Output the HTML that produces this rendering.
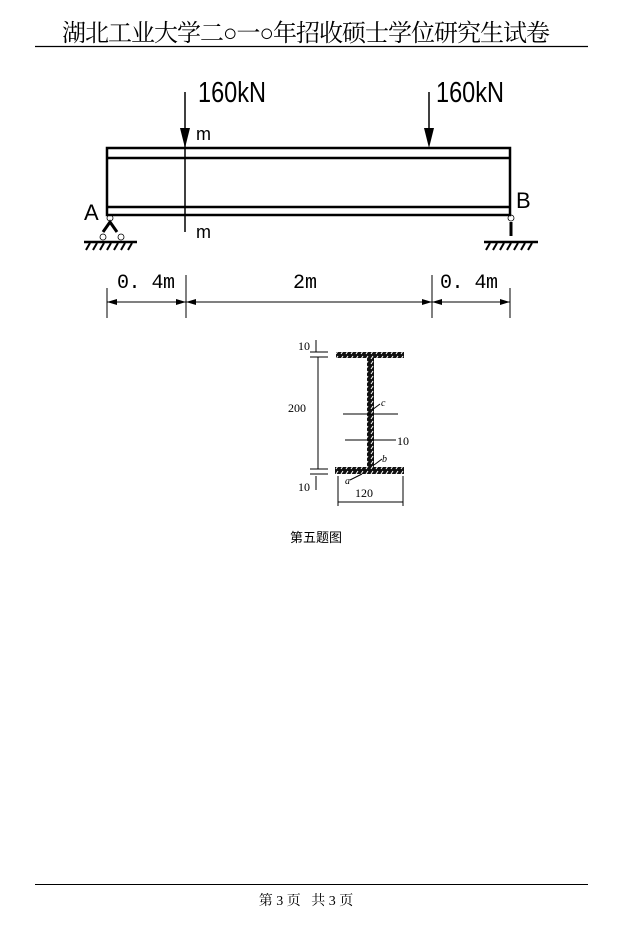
<!DOCTYPE html>
<html><head><meta charset="utf-8"><style>
html,body{margin:0;padding:0;background:#fff;}
svg{display:block}
</style></head><body>
<svg width="631" height="933" viewBox="0 0 631 933" xmlns="http://www.w3.org/2000/svg">
<defs>
<marker id="ar" markerWidth="10" markerHeight="6" refX="10" refY="3" orient="auto" markerUnits="userSpaceOnUse"><path d="M0,0 L10,3 L0,6 Z" fill="#000"/></marker>
<pattern id="h" width="5" height="5" patternUnits="userSpaceOnUse"><rect width="5" height="5" fill="#111"/><path d="M1,4 L3,1" stroke="#fff" stroke-width="1"/></pattern>
</defs>
<text x="306" y="41" font-family="'Liberation Serif','Noto Serif CJK SC',serif" font-size="24" text-anchor="middle" textLength="488" fill="#000">湖北工业大学二○一○年招收硕士学位研究生试卷</text>
<line x1="35" y1="46.5" x2="588" y2="46.5" stroke="#000" stroke-width="1.2"/>

<g stroke="#000" stroke-width="2.5" fill="none">
<rect x="107" y="148" width="403" height="67"/>
<line x1="107" y1="158" x2="510" y2="158"/>
<line x1="107" y1="207" x2="510" y2="207"/>
</g>
<line x1="185" y1="92" x2="185" y2="232" stroke="#000" stroke-width="1.5"/>
<path d="M180,128 L190,128 L185,148 Z"/>
<line x1="429" y1="92" x2="429" y2="135" stroke="#000" stroke-width="1.5"/>
<path d="M424,128 L434,128 L429,148 Z"/>
<g font-family="'Liberation Sans',sans-serif" fill="#000">
<text x="198" y="102" font-size="29" textLength="68" lengthAdjust="spacingAndGlyphs">160kN</text>
<text x="436" y="102" font-size="29" textLength="68" lengthAdjust="spacingAndGlyphs">160kN</text>
<text x="196" y="140" font-size="18">m</text>
<text x="196" y="238" font-size="18">m</text>
<text x="84" y="220" font-size="22">A</text>
<text x="516" y="208" font-size="22">B</text>
</g>
<g stroke="#000" fill="none">
<circle cx="110" cy="218" r="3" stroke-width="0.8"/>
<path d="M103,232 L110,222 L117,232" stroke-width="3"/>
<circle cx="103" cy="237" r="3" stroke-width="0.8"/>
<circle cx="121" cy="237" r="3" stroke-width="0.8"/>
<line x1="84" y1="242" x2="137" y2="242" stroke-width="2.5"/>
<path d="M86,250 L90,243 M93,250 L97,243 M100,250 L104,243 M107,250 L111,243 M114,250 L118,243 M121,250 L125,243 M128,250 L132,243" stroke-width="2"/>
<circle cx="511" cy="218" r="3" stroke-width="0.8"/>
<line x1="511" y1="222" x2="511" y2="236" stroke-width="3"/>
<line x1="484" y1="242" x2="538" y2="242" stroke-width="2.5"/>
<path d="M486,250 L490,243 M493,250 L497,243 M500,250 L504,243 M507,250 L511,243 M514,250 L518,243 M521,250 L525,243 M528,250 L532,243" stroke-width="2"/>
</g>
<g stroke="#000" stroke-width="1">
<line x1="107" y1="288" x2="107" y2="318"/>
<line x1="186" y1="275" x2="186" y2="318"/>
<line x1="432" y1="275" x2="432" y2="318"/>
<line x1="510" y1="288" x2="510" y2="318"/>
<line x1="107" y1="302" x2="186" y2="302" marker-end="url(#ar)"/>
<line x1="186" y1="302" x2="107" y2="302" marker-end="url(#ar)"/>
<line x1="186" y1="302" x2="432" y2="302" marker-end="url(#ar)"/>
<line x1="432" y1="302" x2="186" y2="302" marker-end="url(#ar)"/>
<line x1="432" y1="302" x2="510" y2="302" marker-end="url(#ar)"/>
<line x1="510" y1="302" x2="432" y2="302" marker-end="url(#ar)"/>
</g>
<g font-family="'Liberation Mono',monospace" font-size="20" fill="#000">
<text x="117" y="288" textLength="58">0. 4m</text>
<text x="293" y="288">2m</text>
<text x="440" y="288" textLength="58">0. 4m</text>
</g>

<rect x="336" y="352" width="68" height="6" fill="url(#h)"/>
<rect x="367" y="358" width="7" height="109" fill="url(#h)"/>
<rect x="335" y="467" width="69" height="7" fill="url(#h)"/>
<g stroke="#000" stroke-width="1" fill="none">
<line x1="318" y1="357" x2="318" y2="469"/>
<line x1="310" y1="352" x2="328" y2="352"/>
<line x1="310" y1="357" x2="328" y2="357"/>
<line x1="310" y1="469" x2="328" y2="469"/>
<line x1="310" y1="474" x2="328" y2="474"/>
<line x1="316" y1="340" x2="316" y2="352"/>
<line x1="316" y1="476" x2="316" y2="490"/>
<line x1="343" y1="414" x2="398" y2="414"/>
<line x1="345" y1="440" x2="396" y2="440"/>
<line x1="372" y1="410" x2="380" y2="404"/>
<line x1="374" y1="465" x2="382" y2="459"/>
<line x1="350" y1="480" x2="362" y2="474"/>
<line x1="338" y1="476" x2="338" y2="506"/>
<line x1="403" y1="476" x2="403" y2="506"/>
<line x1="338" y1="502" x2="403" y2="502"/>
</g>
<g font-family="'Liberation Serif',serif" font-size="12" fill="#000">
<text x="298" y="350">10</text>
<text x="288" y="412">200</text>
<text x="298" y="491">10</text>
<text x="397" y="445">10</text>
<text x="355" y="497">120</text>
<text x="381" y="406" font-style="italic" font-size="10">c</text>
<text x="382" y="462" font-style="italic" font-size="10">b</text>
<text x="345" y="484" font-style="italic" font-size="10">a</text>
</g>
<text x="290" y="542" font-family="'Liberation Sans','Noto Sans CJK SC',sans-serif" font-size="13" fill="#000">第五题图</text>

<line x1="35" y1="884.5" x2="588" y2="884.5" stroke="#000" stroke-width="1"/>
<text x="306" y="905" xml:space="preserve" font-family="'Liberation Serif','Noto Serif CJK SC',serif" font-size="14" text-anchor="middle" fill="#000">第 3 页   共 3 页</text>
</svg>
</body></html>
